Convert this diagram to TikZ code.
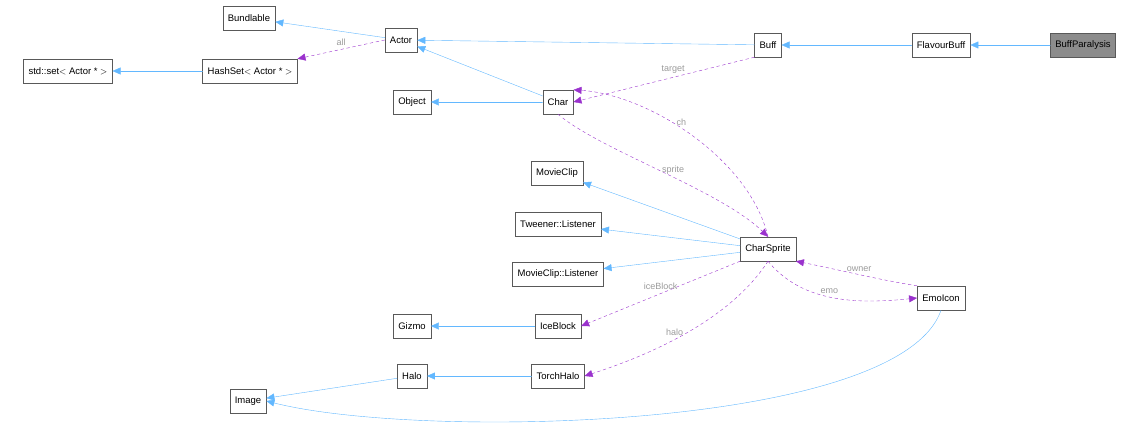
\documentclass[tikz,border=0pt]{standalone}
\usepackage{fontspec}
\setmainfont{Liberation Sans}
\usetikzlibrary{arrows.meta}
\definecolor{inh}{HTML}{63B8FF}
\definecolor{use}{HTML}{9A32CD}
\definecolor{lbl}{HTML}{9A9A9A}
\tikzset{>={Triangle[width=7pt,length=8pt]},
  cls/.style={draw=black!65,fill=white,minimum height=24pt,inner sep=5pt,font=\fontsize{9.5}{11}\selectfont},
  base/.style={inh,->},
  member/.style={use,dashed,->},
  tag/.style={lbl,font=\fontsize{9}{10}\selectfont}}
\begin{document}
\begin{tikzpicture}[x=1pt,y=-1pt,line cap=round]
    \useasboundingbox (0,0) rectangle (1138,433);

    % classes
	\node [cls] (bundlable) at (249,18) {Bundlable};
	\node [cls] (actor) at (401,40) {Actor};
	\node [cls] (stdset) at (68,71) {std::set$<$ Actor * $>$};
	\node [cls] (hashset) at (250,71) {HashSet$<$ Actor * $>$};
	\node [cls] (object) at (412,102) {Object};
	\node [cls] (char) at (558,102) {Char};
	\node [cls] (buff) at (768,45) {Buff};
	\node [cls] (flavour) at (941,45) {FlavourBuff};
	\node [cls,fill=black!45] (paralysis) at (1083,45) {BuffParalysis};
	\node [cls] (movieclip) at (557,173) {MovieClip};
	\node [cls] (tweener) at (558,224) {Tweener::Listener};
	\node [cls] (charsprite) at (768,249) {CharSprite};
	\node [cls] (mclistener) at (558,274) {MovieClip::Listener};
	\node [cls] (gizmo) at (412,326) {Gizmo};
	\node [cls] (iceblock) at (558,326) {IceBlock};
	\node [cls] (halo) at (412,376) {Halo};
	\node [cls] (torchhalo) at (558,376) {TorchHalo};
	\node [cls] (image) at (248,401) {Image};
	\node [cls] (emoicon) at (941,298) {EmoIcon};

    % inheritance
	\draw [base] (actor) -- (bundlable);
	\draw [base] (hashset) -- (stdset);
	\draw [base] (buff) -- (actor);
	\draw [base] (flavour) -- (buff);
	\draw [base] (paralysis) -- (flavour);
	\draw [base] (char) -- (actor);
	\draw [base] (char) -- (object);
	\draw [base] (charsprite) -- (movieclip);
	\draw [base] (charsprite) -- (tweener);
	\draw [base] (charsprite) -- (mclistener);
	\draw [base] (iceblock) -- (gizmo);
	\draw [base] (torchhalo) -- (halo);
	\draw [base] (halo) -- (image);
	\draw [base] (emoicon.south) .. controls (900,430) and (420,440) .. (image.east);

    % members
	\draw [member] (actor.west) -- node [tag,above] {all} (hashset.north east);
	\draw [member] (buff.south west) -- node [tag,above,pos=0.45] {target} (char.east);
	\draw [member] (charsprite.north) .. controls (750,160) and (650,95) .. node [tag,pos=0.55,above] {ch} (char.north east);
	\draw [member] (char.south) .. controls (600,150) and (720,190) .. node [tag,pos=0.55,above] {sprite} (charsprite.north);
	\draw [member] (charsprite.south west) -- node [tag,above,pos=0.5] {iceBlock} (iceblock.east);
	\draw [member] (charsprite.south) .. controls (730,320) and (650,355) .. node [tag,pos=0.5,left] {halo} (torchhalo.east);
	\draw [member] (emoicon.north west) .. controls (880,280) and (840,270) .. node [tag,above] {owner} (charsprite.south east);
	\draw [member] (charsprite.south) .. controls (800,300) and (850,305) .. node [tag,above] {emo} (emoicon.west);

    \end{tikzpicture}
\end{document}
